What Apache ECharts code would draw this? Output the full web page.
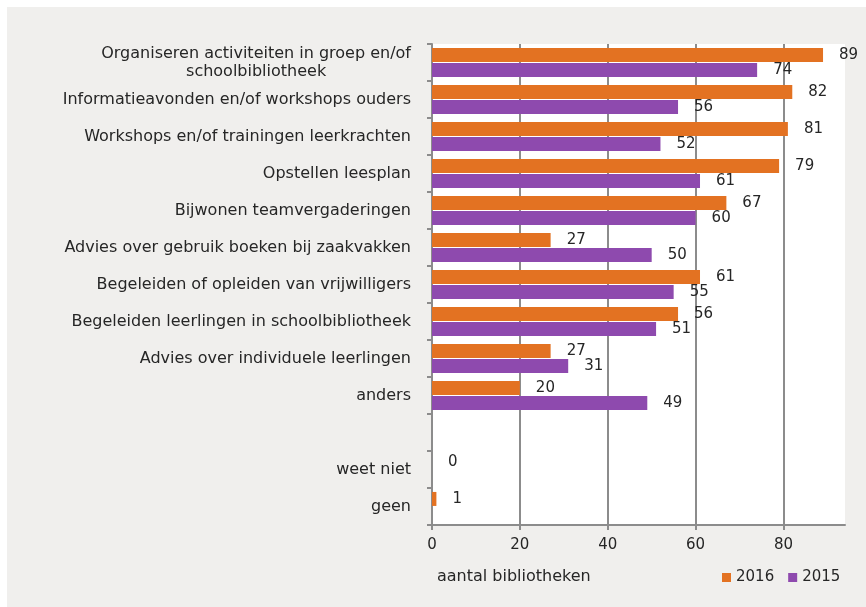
<!DOCTYPE html>
<html>
<head>
<meta charset="utf-8">
<script src="https://cdn.jsdelivr.net/npm/echarts@6/dist/echarts.min.js"></script>
<style>
html,body{margin:0;padding:0;background:#fff;}
#bg{position:absolute;left:7px;top:7px;width:859px;height:600px;background:#f0efed;}
#chart{position:absolute;left:0;top:0;width:866px;height:607px;}
</style>
</head>
<body>
<div id="bg"></div>
<div id="chart"></div>
<script>
const categories = [
  'Organiseren activiteiten in groep en/of\nschoolbibliotheek',
  'Informatieavonden en/of workshops ouders',
  'Workshops en/of trainingen leerkrachten',
  'Opstellen leesplan',
  'Bijwonen teamvergaderingen',
  'Advies over gebruik boeken bij zaakvakken',
  'Begeleiden of opleiden van vrijwilligers',
  'Begeleiden leerlingen in schoolbibliotheek',
  'Advies over individuele leerlingen',
  'anders',
  '',
  'weet niet',
  'geen'
];
const values2016 = [89, 82, 81, 79, 67, 27, 61, 56, 27, 20, '-', 0, 1];
const values2015 = [74, 56, 52, 61, 60, 50, 55, 51, 31, 49, '-', '-', '-'];
const xTicks = [0, 20, 40, 60, 80];
const xMax = 94;

const chart = echarts.init(document.getElementById('chart'));
const font = 'DejaVu Sans, Verdana, sans-serif';
const labelCfg = {show: true, position: 'right', distance: 16, color: '#262626', fontSize: 15, fontFamily: font};
chart.setOption({
  backgroundColor: 'transparent',
  animation: false,
  textStyle: {fontFamily: font},
  title: {
    text: 'aantal bibliotheken', left: 432, top: 564,
    textStyle: {fontSize: 16, fontWeight: 'normal', color: '#262626', fontFamily: font}
  },
  legend: {
    left: 717, top: 565, itemWidth: 9, itemHeight: 9, itemGap: 14,
    icon: 'rect',
    textStyle: {fontSize: 15, color: '#262626', fontFamily: font},
    data: ['2016', '2015']
  },
  grid: {left: 432, top: 44, right: 21, bottom: 82, show: true, backgroundColor: '#fff', borderWidth: 0},
  xAxis: {
    type: 'value', min: 0, max: xMax, interval: 20,
    axisLine: {show: true, lineStyle: {color: '#8c8c8c', width: 2}},
    axisTick: {show: true, length: 5, lineStyle: {color: '#8c8c8c', width: 2}},
    axisLabel: {color: '#262626', fontSize: 15, fontFamily: font, margin: 13, showMaxLabel: false,
      formatter: v => xTicks.indexOf(v) >= 0 ? String(v) : ''},
    splitLine: {show: true, showMinLine: false, showMaxLine: false, lineStyle: {color: '#8c8c8c', width: 2}}
  },
  yAxis: {
    type: 'category', inverse: true, data: categories,
    axisLine: {show: true, lineStyle: {color: '#8c8c8c', width: 2}},
    axisTick: {show: true, length: 5, lineStyle: {color: '#8c8c8c', width: 2}},
    axisLabel: {
      color: '#262626', fontSize: 16, fontFamily: font, margin: 21, lineHeight: 18,
      formatter: v => v.split('\n').map(s => '{c|' + s + '}').join('\n'),
      rich: {c: {align: 'center', fontSize: 16, fontFamily: font, color: '#262626', lineHeight: 18}}
    }
  },
  series: [
    {name: '2016', type: 'bar', data: values2016, barWidth: 14, barGap: '8%',
      itemStyle: {color: '#e37222'}, label: labelCfg},
    {name: '2015', type: 'bar', data: values2015, barWidth: 14, barGap: '8%',
      itemStyle: {color: '#8e4aae'}, label: labelCfg}
  ]
});
</script>
</body>
</html>
